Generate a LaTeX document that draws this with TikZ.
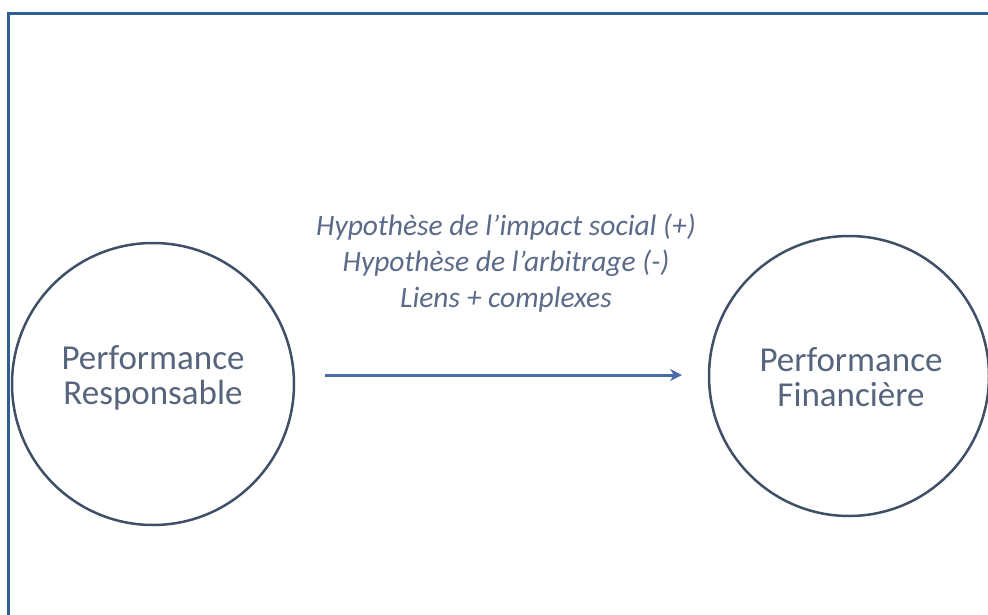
\documentclass[tikz,border=0pt]{standalone}
\usepackage{fontspec}
\setmainfont{Carlito}
\usetikzlibrary{arrows.meta}
\definecolor{framecol}{HTML}{2E5F94}
\definecolor{circcol}{HTML}{3F4F66}
\definecolor{txtcol}{HTML}{56647C}
\definecolor{hypcol}{HTML}{5A6A88}
\definecolor{arrcol}{HTML}{4A6AA8}
\tikzset{
  bubble/.style={circle, draw=circcol, line width=2.5pt, minimum size=#1, inner sep=0pt},
  bubtext/.style={text=txtcol, font=\fontsize{35}{35}\selectfont, align=center},
  hyptext/.style={text=hypcol, font=\fontsize{29.5}{36}\selectfont\itshape, align=center},
  link/.style={draw=arrcol, line width=3pt, -{Stealth[length=12pt,width=12pt]}}
}
\begin{document}
\begin{tikzpicture}[x=1pt,y=-1pt]
\useasboundingbox (0,0) rectangle (988,615);
\draw[framecol, line width=3pt] (8,615) -- (8,14) -- (988,14);
\node[bubble=282pt] (L) at (153,384) {};
\node[bubble=280pt] (R) at (849,376) {};
\node[bubtext] (Lt) at (153,378) {Performance\\Responsable};
\node[bubtext] (Rt) at (851,377) {Performance\\Financière};
\coordinate (A1) at (325,375);
\coordinate (A2) at (682,375);
\draw[link] (A1) -- (A2);
\node[hyptext] (H) at (506,263) {Hypothèse de l’impact social (+)\\Hypothèse de l’arbitrage (-)\\Liens + complexes};
\end{tikzpicture}
\end{document}
